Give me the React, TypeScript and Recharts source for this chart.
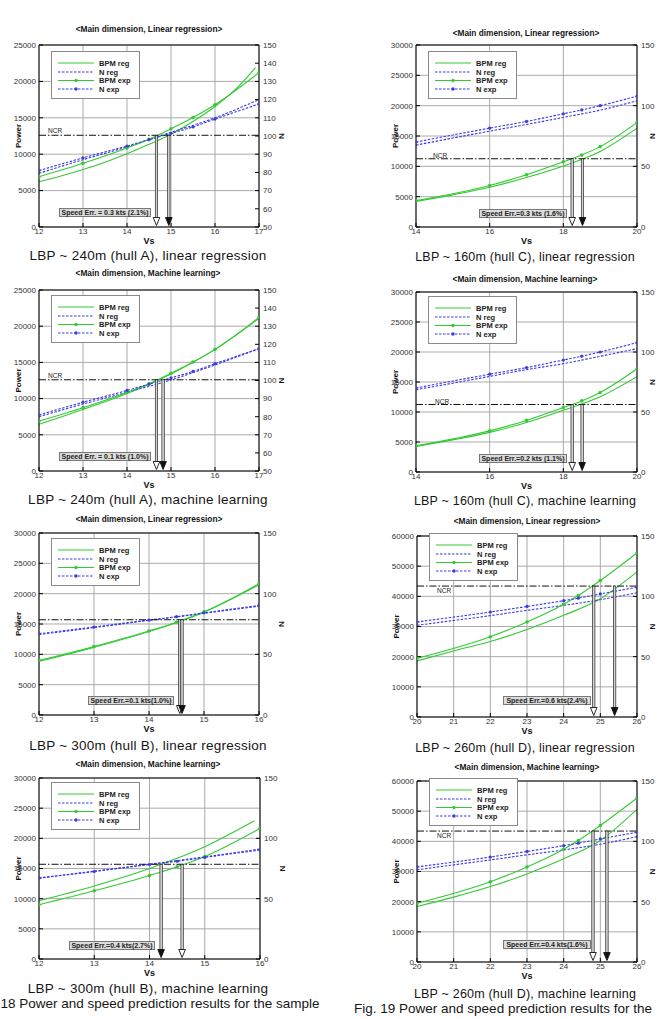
import React from 'react';
import { ComposedChart, Line, XAxis, YAxis, CartesianGrid, ReferenceLine } from 'recharts';

const FONT = '"Liberation Sans", Arial, Helvetica, sans-serif';
const GREEN = '#34c934';
const BLUE = '#3b3be6';
const GRID = '#a2a2a2';

// ---------------- hull A (LBP ~ 240m) ----------------
const hullAExpVs = [12, 13, 14, 14.5, 15, 15.5, 16, 17];
const hullAExpPower = [6900, 8750, 10850, 12050, 13500, 15050, 16800, 21200];
const hullAExpN = [81, 88, 94.5, 98, 101.5, 105, 109.3, 117.6];
const hullALinPowerVs = [12, 12.5, 13, 13.5, 14, 14.5, 15, 15.5, 16, 16.5, 16.92];
const hullALinPower = [6200, 7000, 7900, 8900, 10050, 11350, 12750, 14500, 16550, 19100, 21900];
const hullARegNVs = [12, 13, 14, 15, 16, 17];
const hullALinN = [79.5, 87, 94, 102, 110, 120];
const hullAMlVs = [12, 13, 14, 15, 16, 17];
const hullAMlPower = [6450, 8500, 10700, 13400, 16800, 21100];
const hullAMlN = [80, 87, 93.5, 100.3, 108.6, 117.6];

// ---------------- hull C (LBP ~ 160m) ----------------
const hullCExpVs = [14, 16, 17, 18, 18.5, 19, 20];
const hullCExpPower = [4350, 6850, 8600, 10750, 11850, 13250, 17200];
const hullCExpN = [70, 81.5, 87, 93.3, 96.5, 100, 107.8];
const hullCRegVs = [14, 15, 16, 17, 18, 19, 20];
const hullCLinPower = [4200, 5300, 6550, 8150, 10050, 12450, 16300];
const hullCLinN = [67.5, 73.3, 79, 84.5, 90.3, 96.3, 104];
const hullCMlPower = [4250, 5350, 6600, 8250, 10300, 12550, 15900];
const hullCMlN = [68.6, 74, 79.7, 85.3, 90.3, 96.4, 102.8];

// ---------------- hull B (LBP ~ 300m) ----------------
const hullBExpVs = [12, 13, 14, 14.5, 15, 16];
const hullBExpPower = [9000, 11300, 13850, 15300, 17000, 21650];
const hullBExpN = [67, 72.5, 78.3, 81, 84.2, 90.3];
const hullBRegVs = [12, 13, 14, 15, 16];
const hullBLinPower = [8850, 11150, 13750, 16950, 21450];
const hullBLinN = [66.3, 72, 78, 83.8, 89.7];
const hullBMlPowerVs = [12, 13, 14, 15, 15.9];
const hullBMlPower = [9650, 12100, 15000, 18600, 22900];
const hullBMlN = [67.2, 72.8, 78.6, 84.6, 91.2];

// ---------------- hull D (LBP ~ 260m) ----------------
const hullDExpVs = [20, 22, 23, 24, 24.4, 25, 26];
const hullDExpPower = [19450, 26600, 31500, 37400, 40300, 45250, 54350];
const hullDExpN = [78.8, 87, 91.6, 96.4, 98.5, 102, 107.5];
const hullDRegVs = [20, 21, 22, 23, 24, 25, 26];
const hullDLinPower = [18600, 21900, 25000, 29000, 33700, 39200, 48100];
const hullDLinN = [76, 80, 84, 88.4, 92.5, 97.2, 103];
const hullDMlPower = [18400, 21500, 25000, 29200, 34200, 40300, 50600];
const hullDMlN = [76.4, 80.5, 84.6, 88.8, 92.9, 97.6, 103.9];

// NCR power levels
const ncrA = 12600;
const ncrC = 11250;
const ncrB = 15700;
const ncrD = 43400;

// ticks
const xTicksA = [12, 13, 14, 15, 16, 17];
const xTicksC = [14, 16, 18, 20];
const xTicksB = [12, 13, 14, 15, 16];
const xTicksD = [20, 21, 22, 23, 24, 25, 26];
const powerTicks25k = [0, 5000, 10000, 15000, 20000, 25000];
const powerTicks30k = [0, 5000, 10000, 15000, 20000, 25000, 30000];
const powerTicks60k = [0, 10000, 20000, 30000, 40000, 50000, 60000];
const nTicksA = [50, 60, 70, 80, 90, 100, 110, 120, 130, 140, 150];
const nTicks150 = [0, 50, 100, 150];

// speed arrows (Vs at NCR crossing); [hollow = exp, filled = reg]
const arrowsP1 = [14.67, 14.95];
const arrowsP2 = [18.24, 18.52];
const arrowsP3 = [14.67, 14.82];
const arrowsP4 = [18.24, 18.51];
const arrowsP5 = [14.56, 14.6];
const arrowsP6 = [24.82, 25.39];
const arrowsP7 = [14.59, 14.21];
const arrowsP8 = [24.8, 25.18];

const legendLabels = ['BPM reg', 'N reg', 'BPM exp', 'N exp'];

const pts = (vs: number[], vals: number[], key: string) => vs.map((v, i) => ({ v, [key]: vals[i] }));

const TITLE_LR = '<Main dimension, Linear regression>';
const TITLE_ML = '<Main dimension, Machine learning>';

type PanelDef = {
  col: 0 | 1;
  plot: [number, number, number, number];
  title: string;
  titlePos: [number, number];
  caption: string;
  capPos: [number, number];
  xDomain: [number, number];
  xTicks: number[];
  pMax: number;
  pTicks: number[];
  nDomain: [number, number];
  nTicks: number[];
  bpmReg: any[];
  nReg: any[];
  bpmExp: any[];
  nExp: any[];
  ncr: number;
  arrows: number[];
  err: string;
  errBox: [number, number, number, number];
  legendDy: number;
  ncrLabel: null | { dx: number; dy: number };
};

const panels: PanelDef[] = [
  {
    col: 0, plot: [39, 45, 259, 227], title: TITLE_LR, titlePos: [149, 29],
    caption: 'LBP ~ 240m (hull A), linear regression', capPos: [148, 256],
    xDomain: [12, 17], xTicks: xTicksA, pMax: 25000, pTicks: powerTicks25k, nDomain: [50, 150], nTicks: nTicksA,
    bpmReg: pts(hullALinPowerVs, hullALinPower, 'p'), nReg: pts(hullARegNVs, hullALinN, 'n'),
    bpmExp: pts(hullAExpVs, hullAExpPower, 'p'), nExp: pts(hullAExpVs, hullAExpN, 'n'),
    ncr: ncrA, arrows: arrowsP1, err: 'Speed Err. = 0.3 kts (2.1%)', errBox: [59, 208, 92, 9],
    legendDy: 6, ncrLabel: { dx: 9, dy: -5 },
  },
  {
    col: 1, plot: [416, 45, 637, 227], title: TITLE_LR, titlePos: [526, 33],
    caption: 'LBP ~ 160m (hull C), linear regression', capPos: [525, 257],
    xDomain: [14, 20], xTicks: xTicksC, pMax: 30000, pTicks: powerTicks30k, nDomain: [0, 150], nTicks: nTicks150,
    bpmReg: pts(hullCRegVs, hullCLinPower, 'p'), nReg: pts(hullCRegVs, hullCLinN, 'n'),
    bpmExp: pts(hullCExpVs, hullCExpPower, 'p'), nExp: pts(hullCExpVs, hullCExpN, 'n'),
    ncr: ncrC, arrows: arrowsP2, err: 'Speed Err.=0.3 kts (1.6%)', errBox: [479, 209, 88, 9],
    legendDy: 6, ncrLabel: { dx: 17, dy: -3 },
  },
  {
    col: 0, plot: [39, 290, 259, 471], title: TITLE_ML, titlePos: [148, 273],
    caption: 'LBP ~ 240m (hull A), machine learning', capPos: [148, 500],
    xDomain: [12, 17], xTicks: xTicksA, pMax: 25000, pTicks: powerTicks25k, nDomain: [50, 150], nTicks: nTicksA,
    bpmReg: pts(hullAMlVs, hullAMlPower, 'p'), nReg: pts(hullAMlVs, hullAMlN, 'n'),
    bpmExp: pts(hullAExpVs, hullAExpPower, 'p'), nExp: pts(hullAExpVs, hullAExpN, 'n'),
    ncr: ncrA, arrows: arrowsP3, err: 'Speed Err. = 0.1 kts (1.0%)', errBox: [59, 452, 92, 9],
    legendDy: 5, ncrLabel: { dx: 9, dy: -4 },
  },
  {
    col: 1, plot: [416, 292, 637, 472], title: TITLE_ML, titlePos: [525, 279],
    caption: 'LBP ~ 160m (hull C), machine learning', capPos: [525, 501],
    xDomain: [14, 20], xTicks: xTicksC, pMax: 30000, pTicks: powerTicks30k, nDomain: [0, 150], nTicks: nTicks150,
    bpmReg: pts(hullCRegVs, hullCMlPower, 'p'), nReg: pts(hullCRegVs, hullCMlN, 'n'),
    bpmExp: pts(hullCExpVs, hullCExpPower, 'p'), nExp: pts(hullCExpVs, hullCExpN, 'n'),
    ncr: ncrC, arrows: arrowsP4, err: 'Speed Err.=0.2 kts (1.1%)', errBox: [479, 454, 88, 9],
    legendDy: 4, ncrLabel: { dx: 19, dy: -3 },
  },
  {
    col: 0, plot: [39, 533, 259, 715], title: TITLE_LR, titlePos: [149, 519],
    caption: 'LBP ~ 300m (hull B), linear regression', capPos: [148, 746],
    xDomain: [12, 16], xTicks: xTicksB, pMax: 30000, pTicks: powerTicks30k, nDomain: [0, 150], nTicks: nTicks150,
    bpmReg: pts(hullBRegVs, hullBLinPower, 'p'), nReg: pts(hullBRegVs, hullBLinN, 'n'),
    bpmExp: pts(hullBExpVs, hullBExpPower, 'p'), nExp: pts(hullBExpVs, hullBExpN, 'n'),
    ncr: ncrB, arrows: arrowsP5, err: 'Speed Err.=0.1 kts(1.0%)', errBox: [88, 696, 86, 9],
    legendDy: 5, ncrLabel: null,
  },
  {
    col: 1, plot: [417, 536, 637, 717], title: TITLE_LR, titlePos: [527, 521],
    caption: 'LBP ~ 260m (hull D), linear regression', capPos: [525, 748],
    xDomain: [20, 26], xTicks: xTicksD, pMax: 60000, pTicks: powerTicks60k, nDomain: [0, 150], nTicks: nTicks150,
    bpmReg: pts(hullDRegVs, hullDLinPower, 'p'), nReg: pts(hullDRegVs, hullDLinN, 'n'),
    bpmExp: pts(hullDExpVs, hullDExpPower, 'p'), nExp: pts(hullDExpVs, hullDExpN, 'n'),
    ncr: ncrD, arrows: arrowsP6, err: 'Speed Err.=0.6 kts(2.4%)', errBox: [503, 696, 88, 9],
    legendDy: -3, ncrLabel: { dx: 20, dy: 4 },
  },
  {
    col: 0, plot: [39, 778, 260, 959], title: TITLE_ML, titlePos: [148, 764],
    caption: 'LBP ~ 300m (hull B), machine learning', capPos: [148, 989],
    xDomain: [12, 16], xTicks: xTicksB, pMax: 30000, pTicks: powerTicks30k, nDomain: [0, 150], nTicks: nTicks150,
    bpmReg: pts(hullBMlPowerVs, hullBMlPower, 'p'), nReg: pts(hullBRegVs, hullBMlN, 'n'),
    bpmExp: pts(hullBExpVs, hullBExpPower, 'p'), nExp: pts(hullBExpVs, hullBExpN, 'n'),
    ncr: ncrB, arrows: arrowsP7, err: 'Speed Err.=0.4 kts(2.7%)', errBox: [69, 941, 86, 9],
    legendDy: 4, ncrLabel: null,
  },
  {
    col: 1, plot: [417, 781, 637, 962], title: TITLE_ML, titlePos: [527, 767],
    caption: 'LBP ~ 260m (hull D), machine learning', capPos: [525, 994],
    xDomain: [20, 26], xTicks: xTicksD, pMax: 60000, pTicks: powerTicks60k, nDomain: [0, 150], nTicks: nTicks150,
    bpmReg: pts(hullDRegVs, hullDMlPower, 'p'), nReg: pts(hullDRegVs, hullDMlN, 'n'),
    bpmExp: pts(hullDExpVs, hullDExpPower, 'p'), nExp: pts(hullDExpVs, hullDExpN, 'n'),
    ncr: ncrD, arrows: arrowsP8, err: 'Speed Err.=0.4 kts(1.6%)', errBox: [503, 940, 88, 9],
    legendDy: -3, ncrLabel: { dx: 20, dy: 4 },
  },
];

const tickStyle = { fontSize: 8, fill: '#333', fontFamily: FONT };

const arrowShape = (filled: boolean) => (props: any) => {
  const x = props.x1;
  const yTop = Math.min(props.y1, props.y2);
  const yTip = Math.max(props.y1, props.y2) - 1.5;
  const headH = 8;
  const headW = 3.3;
  return (
    <g>
      <rect x={x - 1.2} y={yTop} width={2.4} height={Math.max(0, yTip - headH - yTop)} fill="#d2d2d2" stroke="#1a1a1a" strokeWidth={0.65} />
      <path d={`M${x - headW},${yTip - headH}L${x + headW},${yTip - headH}L${x},${yTip}Z`} fill={filled ? '#111' : '#fff'} stroke="#111" strokeWidth={0.9} />
    </g>
  );
};

const powerLabel = (props: any) => {
  const vb = props.viewBox;
  const cx = vb.x + 9;
  const cy = vb.y + vb.height / 2;
  return (
    <text x={cx} y={cy} transform={`rotate(-90 ${cx} ${cy})`} textAnchor="middle" dominantBaseline="central" fontSize={8} fontWeight={700} fill="#111" fontFamily={FONT}>Power</text>
  );
};

const nLabelFn = (dx: number) => (props: any) => {
  const vb = props.viewBox;
  const cx = vb.x + dx;
  const cy = vb.y + vb.height / 2;
  return (
    <text x={cx} y={cy} transform={`rotate(-90 ${cx} ${cy})`} textAnchor="middle" dominantBaseline="central" fontSize={8} fontWeight={700} fill="#111" fontFamily={FONT}>N</text>
  );
};

const vsLabel = (props: any) => {
  const vb = props.viewBox;
  return (
    <text x={vb.x + vb.width / 2} y={vb.y + 14} textAnchor="middle" dominantBaseline="central" fontSize={9} fontWeight={700} fill="#111" fontFamily={FONT}>Vs</text>
  );
};

const ncrLabelFn = (dx: number, dy: number) => (props: any) => {
  const vb = props.viewBox;
  return (
    <text x={vb.x + dx} y={vb.y + dy} textAnchor="start" dominantBaseline="central" fontSize={6.5} fill="#222" fontFamily={FONT}>NCR</text>
  );
};

function LegendBox({ x, y }: { x: number; y: number }) {
  const rows = [12, 21, 29.5, 38];
  return (
    <svg style={{ position: 'absolute', left: x, top: y }} width={90} height={49}>
      <rect x={0.5} y={0.5} width={88} height={47} fill="#fff" stroke="#8a8a8a" strokeWidth={1} />
      {legendLabels.map((lab, i) => {
        const yy = rows[i];
        const isBlue = i % 2 === 1;
        const col = isBlue ? BLUE : GREEN;
        return (
          <g key={lab}>
            <line x1={7} x2={43} y1={yy} y2={yy} stroke={col} strokeWidth={1.1} strokeDasharray={isBlue ? '2.5 1.5' : undefined} />
            {i >= 2 && <circle cx={25} cy={yy} r={1.7} fill={col} />}
            <text x={48} y={yy} dominantBaseline="central" fontSize={7.5} fontWeight={700} fill="#222" fontFamily={FONT}>{lab}</text>
          </g>
        );
      })}
    </svg>
  );
}

function CenterText({ x, y, size, bold, spacing, children }: any) {
  return (
    <div style={{ position: 'absolute', left: x, top: y, transform: 'translate(-50%, -50%)', whiteSpace: 'nowrap', fontSize: size, fontWeight: bold ? 700 : 400, letterSpacing: spacing || 0, lineHeight: 1, color: '#151515', fontFamily: FONT }}>
      {children}
    </div>
  );
}

function Panel({ d }: { d: PanelDef }) {
  const [L, T, R, B] = d.plot;
  const left = d.col === 0 ? 0 : 330;
  const width = d.col === 0 ? 330 : 340;
  const top = T - 10;
  const height = B - T + 40;
  const margin = { top: 10, bottom: 0, left: L - left - 30, right: left + width - R - 30 };
  const [ex, ey, ew, eh] = d.errBox;
  return (
    <>
      <CenterText x={d.titlePos[0]} y={d.titlePos[1]} size={8.3} bold>{d.title}</CenterText>
      <div style={{ position: 'absolute', left, top, width, height }}>
        <ComposedChart width={width} height={height} margin={margin}>
          <CartesianGrid yAxisId="p" stroke={GRID} strokeWidth={0.9} />
          <XAxis
            type="number" dataKey="v" domain={d.xDomain} ticks={d.xTicks} interval={0} allowDataOverflow
            height={30} tickSize={-4} tickMargin={5} tick={tickStyle}
            axisLine={{ stroke: '#000' }} tickLine={{ stroke: '#000' }} label={vsLabel}
          />
          <YAxis
            yAxisId="p" type="number" domain={[0, d.pMax]} ticks={d.pTicks} interval={0} allowDataOverflow
            width={30} tickSize={-4} tickMargin={7} tick={tickStyle}
            axisLine={{ stroke: '#000' }} tickLine={{ stroke: '#000' }} label={powerLabel}
          />
          <YAxis
            yAxisId="n" orientation="right" type="number" domain={d.nDomain} ticks={d.nTicks} interval={0} allowDataOverflow
            width={30} tickSize={-4} tickMargin={8} tick={tickStyle}
            axisLine={{ stroke: '#000' }} tickLine={{ stroke: '#000' }} label={nLabelFn(d.col === 0 ? 22 : 15)}
          />
          <ReferenceLine yAxisId="p" y={d.pMax} stroke="#000" strokeWidth={1} />
          <Line yAxisId="p" data={d.bpmReg} dataKey="p" type="monotone" stroke={GREEN} strokeWidth={1.1} dot={false} isAnimationActive={false} />
          <Line yAxisId="n" data={d.nReg} dataKey="n" type="monotone" stroke={BLUE} strokeWidth={1.1} strokeDasharray="2.5 1.5" dot={false} isAnimationActive={false} />
          <Line yAxisId="p" data={d.bpmExp} dataKey="p" type="monotone" stroke={GREEN} strokeWidth={1.1} dot={{ r: 1.8, fill: GREEN, stroke: GREEN, strokeWidth: 0 }} isAnimationActive={false} />
          <Line yAxisId="n" data={d.nExp} dataKey="n" type="monotone" stroke={BLUE} strokeWidth={1.1} strokeDasharray="2.5 1.5" dot={{ r: 1.6, fill: BLUE, stroke: BLUE, strokeWidth: 0, strokeDasharray: '' }} isAnimationActive={false} />
          <ReferenceLine
            yAxisId="p" y={d.ncr} stroke="#111" strokeWidth={1} strokeDasharray="7 2 1.5 2"
            label={d.ncrLabel ? ncrLabelFn(d.ncrLabel.dx, d.ncrLabel.dy) : undefined}
          />
          <ReferenceLine yAxisId="p" segment={[{ x: d.arrows[0], y: d.ncr }, { x: d.arrows[0], y: 0 }]} shape={arrowShape(false)} />
          <ReferenceLine yAxisId="p" segment={[{ x: d.arrows[1], y: d.ncr }, { x: d.arrows[1], y: 0 }]} shape={arrowShape(true)} />
        </ComposedChart>
      </div>
      <LegendBox x={L + 12} y={T + d.legendDy} />
      <div style={{ position: 'absolute', left: ex, top: ey, width: ew, height: eh, boxSizing: 'border-box', background: '#dcdcdc', border: '1px solid #777', fontSize: 7, fontWeight: 700, lineHeight: `${eh - 2}px`, textAlign: 'center', color: '#222', fontFamily: FONT, whiteSpace: 'nowrap' }}>
        {d.err}
      </div>
      <CenterText x={d.capPos[0]} y={d.capPos[1]} size={d.col === 0 ? 13.5 : 12.5} spacing={d.col === 0 ? 0.25 : 0.2}>{d.caption}</CenterText>
    </>
  );
}

export default function App() {
  return (
    <div style={{ position: 'absolute', left: 0, top: 0, width: 657, height: 1019, overflow: 'hidden', background: '#fff', fontFamily: FONT }}>
      {panels.map((d, i) => (
        <Panel key={i} d={d} />
      ))}
      <CenterText x={160} y={1004} size={13.5}>18 Power and speed prediction results for the sample</CenterText>
      <CenterText x={503} y={1009} size={13.5}>Fig. 19 Power and speed prediction results for the</CenterText>
    </div>
  );
}
